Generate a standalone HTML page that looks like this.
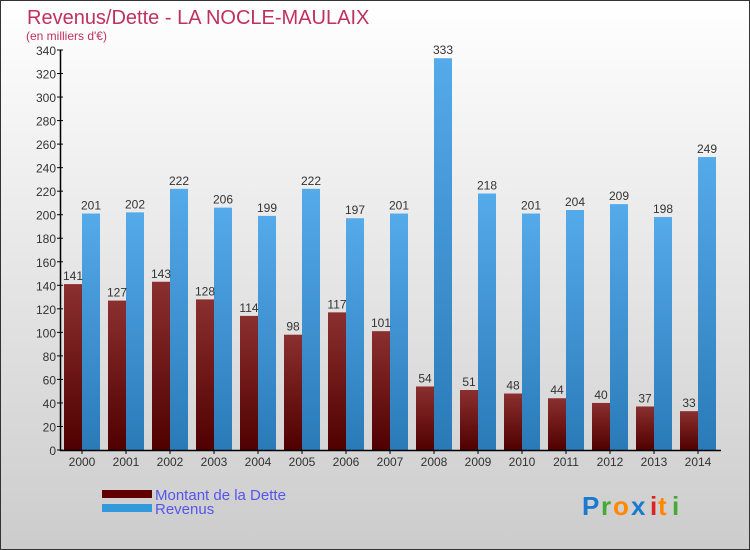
<!DOCTYPE html>
<html><head><meta charset="utf-8"><style>
body{margin:0}
svg{display:block;font-family:"Liberation Sans",sans-serif}
</style></head><body>
<svg width="750" height="550" viewBox="0 0 750 550">
<defs>
<linearGradient id="bg" x1="0" y1="0" x2="0" y2="1"><stop offset="0" stop-color="#ffffff"/><stop offset="1" stop-color="#cccccc"/></linearGradient>
<linearGradient id="gd" x1="0" y1="0" x2="0" y2="1"><stop offset="0" stop-color="#8b2f2f"/><stop offset="1" stop-color="#500000"/></linearGradient>
<linearGradient id="gr" x1="0" y1="0" x2="0" y2="1"><stop offset="0" stop-color="#55aaea"/><stop offset="1" stop-color="#2a7ab8"/></linearGradient>
</defs>
<rect x="0.5" y="0.5" width="749" height="549" fill="url(#bg)" stroke="#333"/>
<text x="27" y="24" font-size="20" fill="#c03060">Revenus/Dette - LA NOCLE-MAULAIX</text>
<text x="26" y="40" font-size="12" fill="#c03060">(en milliers d'€)</text>
<g id="plot"></g>
<g>
<rect x="102" y="490" width="50" height="8" fill="#600000"/>
<rect x="102" y="504" width="50" height="8" fill="#3399dd"/>
<text x="155" y="500" font-size="15" fill="#5555ee">Montant de la Dette</text>
<text x="155" y="514" font-size="15" fill="#5555ee">Revenus</text>
</g>
<g font-size="26" font-weight="bold">
<text x="582" y="515" fill="#1a7ad0">P</text><text x="601" y="515" fill="#44aa33">r</text><text x="613" y="515" fill="#ff8800">o</text><text x="631" y="515" fill="#1a7ad0">x</text><text x="650" y="515" fill="#dd2222">i</text><text x="658" y="515" fill="#ff8800">t</text><text x="672" y="515" fill="#44aa33">i</text>
</g>
</svg>
<script>
const years=["2000","2001","2002","2003","2004","2005","2006","2007","2008","2009","2010","2011","2012","2013","2014"];
const dette=[141,127,143,128,114,98,117,101,54,51,48,44,40,37,33];
const revenus=[201,202,222,206,199,222,197,201,333,218,201,204,209,198,249];
const yTicks=[0,20,40,60,80,100,120,140,160,180,200,220,240,260,280,300,320,340];
const NS="http://www.w3.org/2000/svg";
const g=document.getElementById('plot');
const y0=450,yTop=50,yMax=340;
function y(v){return y0-(v/yMax)*(y0-yTop);}
function gx(i){return 64+i*44;}
function el(t,a,p){const e=document.createElementNS(NS,t);for(const k in a)e.setAttribute(k,a[k]);(p||g).appendChild(e);return e;}
yTicks.forEach(v=>{
  const t=el('text',{x:56,y:y(v)+5,'font-size':12,fill:'#333','text-anchor':'end'});t.textContent=v;
  
  
  const l=el('line',{x1:57,x2:63,y1:y(v),y2:y(v),stroke:'#000'});
  
  
});
years.forEach((yr,i)=>{
  const x=gx(i);
  const b1=el('rect',{x:x,y:y(dette[i]),width:18,height:y0-y(dette[i]),fill:'url(#gd)'});
  
  
  const b2=el('rect',{x:x+18,y:y(revenus[i]),width:18,height:y0-y(revenus[i]),fill:'url(#gr)'});
  
  
  const t1=el('text',{x:x+9,y:y(dette[i])-4,'font-size':12,fill:'#333','text-anchor':'middle'});t1.textContent=dette[i];
  
  
  const t2=el('text',{x:x+27,y:y(revenus[i])-4,'font-size':12,fill:'#333','text-anchor':'middle'});t2.textContent=revenus[i];
  
  
  const tl=el('text',{x:x+18,y:466,'font-size':12,fill:'#333','text-anchor':'middle'});tl.textContent=yr;
  
  
  const tk=el('line',{x1:x+18,x2:x+18,y1:450,y2:454,stroke:'#000'});
  
  
});
const ya=el('line',{x1:60.5,x2:60.5,y1:50,y2:451,stroke:'#000','stroke-width':1.5});


const xa=el('line',{x1:60,x2:721,y1:450.5,y2:450.5,stroke:'#000','stroke-width':1.5});


</script>
</body></html>
